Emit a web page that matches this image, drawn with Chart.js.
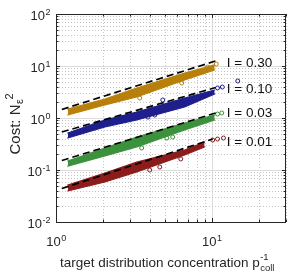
<!DOCTYPE html>
<html>
<head>
<meta charset="utf-8">
<script src="https://cdn.jsdelivr.net/npm/chart.js@4.4.0/dist/chart.umd.min.js"></script>
<style>
  html, body { margin: 0; padding: 0; background: #fff; }
  #contenedor { width: 299px; height: 275px; }
</style>
</head>
<body>
<div id="contenedor"><canvas id="grafico"></canvas></div>
<script>
// ticks con etiqueta (potencias de 10)
const xTicks = [1, 10];
const yTicks = [0.01, 0.1, 1, 10, 100];

// etiquetas de cada serie
const etiquetas = ["I = 0.30", "I = 0.10", "I = 0.03", "I = 0.01"];
const etiquetaX = 12.5;
const etiquetaY = [11.4, 3.61, 1.25, 0.345];

// banda de puntos: borde superior e inferior
const bandaX = [1.19, 2.06, 3.3, 6.7, 10.45];
const oroArriba = [1.49, 2.32, 3.78, 7.33, 10.5];
const oroAbajo = [1.14, 1.78, 2.53, 5.38, 8.38];
const azulArriba = [0.515, 0.915, 1.30, 2.42, 3.45];
const azulAbajo = [0.412, 0.671, 0.915, 1.63, 2.89];
const verdeArriba = [0.149, 0.265, 0.431, 0.80, 1.14];
const verdeAbajo = [0.119, 0.186, 0.277, 0.588, 0.915];
const rojoX = [1.19, 2.06, 3.3, 6.7, 9.0];
const rojoArriba = [0.0515, 0.0875, 0.142, 0.242, 0.345];
const rojoAbajo = [0.0395, 0.0587, 0.0917, 0.194, 0.277];

// puntos sueltos
const oroSueltosX = [3.45, 6.42, 9.43, 10.7];
const oroSueltosY = [2.42, 4.71, 9.55, 10.9];
const azulSueltosX = [3.89, 4.31, 4.85, 10.9, 11.7, 14.7];
const azulSueltosY = [1.04, 1.14, 2.22, 3.78, 3.94, 5.15];
const verdeSueltosX = [3.55, 5.15, 5.62, 10.9, 11.6];
const verdeSueltosY = [0.265, 0.412, 0.431, 1.19, 1.25];
const rojoSueltosX = [4.0, 4.64, 6.33, 10.15, 10.9, 11.9];
const rojoSueltosY = [0.1, 0.114, 0.163, 0.377, 0.394, 0.412];

// rectas de referencia (discontinuas)
const rectaX = [1.09, 10.6];
const oroRecta = [1.46, 12.5];
const azulRecta = [0.538, 3.85];
const verdeRecta = [0.152, 1.25];
const rojoRectaX = [1.09, 10.15];
const rojoRecta = [0.044, 0.394];

const colores = ["#b8800a", "#1e1e8c", "#3c913c", "#8c1c1c"];
const fuente = "Liberation Sans, Arial, Helvetica, sans-serif";
const tinta = "#262626";

function puntos(xs, ys) {
  return xs.map((x, i) => ({ x: x, y: ys[i] }));
}

const series = [
  [bandaX, oroArriba, oroAbajo, oroSueltosX, oroSueltosY, rectaX, oroRecta],
  [bandaX, azulArriba, azulAbajo, azulSueltosX, azulSueltosY, rectaX, azulRecta],
  [bandaX, verdeArriba, verdeAbajo, verdeSueltosX, verdeSueltosY, rectaX, verdeRecta],
  [rojoX, rojoArriba, rojoAbajo, rojoSueltosX, rojoSueltosY, rojoRectaX, rojoRecta],
];

const datasets = [];
series.forEach((s, i) => {
  const color = colores[i];
  datasets.push({
    type: "line", data: puntos(s[0], s[2]), borderColor: color, borderWidth: 1.2,
    borderCapStyle: "round", pointRadius: 0, fill: false, order: 3,
  });
  datasets.push({
    type: "line", data: puntos(s[0], s[1]), borderColor: color, borderWidth: 1.2,
    borderCapStyle: "round", backgroundColor: color, pointRadius: 0, fill: "-1", order: 3,
  });
  datasets.push({
    type: "scatter", data: puntos(s[3], s[4]), borderColor: color, borderWidth: 1,
    backgroundColor: "rgba(0,0,0,0)", pointRadius: 2, order: 2,
  });
  datasets.push({
    type: "line", data: puntos(s[5], s[6]), borderColor: "#000", borderWidth: 1.7,
    borderDash: [7, 4], pointRadius: 0, fill: false, order: 1,
  });
});

function valoresLog(min, max) {
  const v = [];
  for (let e = Math.floor(Math.log10(min)); e <= Math.ceil(Math.log10(max)); e++) {
    for (let m = 1; m < 10; m++) {
      const val = m * Math.pow(10, e);
      if (val >= min * 0.999 && val <= max * 1.001) v.push({ val: val, mayor: m === 1 });
    }
  }
  return v;
}

function potencia(ctx, exp, x, y, alinear) {
  ctx.font = "13px " + fuente;
  const wb = ctx.measureText("10").width;
  ctx.font = "9px " + fuente;
  const we = ctx.measureText(exp).width;
  let x0 = x;
  if (alinear === "center") x0 = x - (wb + we) / 2;
  if (alinear === "right") x0 = x - (wb + we);
  ctx.textAlign = "left";
  ctx.textBaseline = "alphabetic";
  ctx.font = "13px " + fuente;
  ctx.fillText("10", x0, y);
  ctx.font = "9px " + fuente;
  ctx.fillText(exp, x0 + wb + 0.5, y - 5.5);
}

const decoracion = {
  id: "decoracion",
  beforeDraw(chart) {
    const ctx = chart.ctx;
    ctx.save();
    ctx.fillStyle = "#fff";
    ctx.fillRect(0, 0, chart.width, chart.height);
    ctx.restore();
  },
  beforeDatasetsDraw(chart) {
    const ctx = chart.ctx;
    const a = chart.chartArea;
    const xs = chart.scales.x, ys = chart.scales.y;
    ctx.save();
    ctx.lineWidth = 1;
    valoresLog(xs.min, xs.max).forEach((t) => {
      const p = Math.round(xs.getPixelForValue(t.val)) + 0.5;
      ctx.strokeStyle = t.mayor ? "#dcdcdc" : "#c4c4c4";
      ctx.setLineDash(t.mayor ? [] : [1, 2]);
      ctx.beginPath(); ctx.moveTo(p, a.top); ctx.lineTo(p, a.bottom); ctx.stroke();
    });
    valoresLog(ys.min, ys.max).forEach((t) => {
      const p = Math.round(ys.getPixelForValue(t.val)) + 0.5;
      ctx.strokeStyle = t.mayor ? "#dcdcdc" : "#c4c4c4";
      ctx.setLineDash(t.mayor ? [] : [1, 2]);
      ctx.beginPath(); ctx.moveTo(a.left, p); ctx.lineTo(a.right, p); ctx.stroke();
    });
    ctx.restore();
  },
  afterDatasetsDraw(chart) {
    const ctx = chart.ctx;
    const a = chart.chartArea;
    const xs = chart.scales.x, ys = chart.scales.y;
    ctx.save();
    ctx.strokeStyle = tinta;
    ctx.lineWidth = 1;
    ctx.setLineDash([]);
    // marcas
    valoresLog(xs.min, xs.max).forEach((t) => {
      const p = Math.round(xs.getPixelForValue(t.val)) + 0.5;
      const l = t.mayor ? 4 : 2.5;
      ctx.beginPath();
      ctx.moveTo(p, a.bottom); ctx.lineTo(p, a.bottom - l);
      ctx.moveTo(p, a.top); ctx.lineTo(p, a.top + l);
      ctx.stroke();
    });
    valoresLog(ys.min, ys.max).forEach((t) => {
      const p = Math.round(ys.getPixelForValue(t.val)) + 0.5;
      const l = t.mayor ? 4 : 2.5;
      ctx.beginPath();
      ctx.moveTo(a.left, p); ctx.lineTo(a.left + l, p);
      ctx.moveTo(a.right, p); ctx.lineTo(a.right - l, p);
      ctx.stroke();
    });
    ctx.strokeRect(a.left + 0.5, a.top + 0.5, a.right - a.left - 1, a.bottom - a.top);

    // etiquetas de los ejes
    ctx.fillStyle = tinta;
    xTicks.forEach((v) => {
      potencia(ctx, String(Math.round(Math.log10(v))), xs.getPixelForValue(v), a.bottom + 24, "center");
    });
    yTicks.forEach((v) => {
      const e = Math.round(Math.log10(v));
      potencia(ctx, e < 0 ? "-" + (-e) : String(e), a.left - 6, ys.getPixelForValue(v) + 6, "right");
    });

    // titulo eje x
    ctx.textAlign = "left";
    ctx.textBaseline = "alphabetic";
    const tx = "target distribution concentration p";
    ctx.font = "13.5px " + fuente;
    const wx = ctx.measureText(tx).width;
    ctx.font = "9.5px " + fuente;
    const wsub = ctx.measureText("coll").width;
    let x0 = 167 - (wx + wsub) / 2;
    ctx.font = "13.5px " + fuente;
    ctx.fillText(tx, x0, 267);
    ctx.font = "9.5px " + fuente;
    ctx.fillText("coll", x0 + wx + 0.5, 271);
    ctx.fillText("-1", x0 + wx + 0.5, 260);

    // titulo eje y
    ctx.save();
    ctx.translate(20, 124);
    ctx.rotate(-Math.PI / 2);
    const ty = "Cost: N";
    ctx.font = "15px " + fuente;
    const wy = ctx.measureText(ty).width;
    ctx.font = "11px " + fuente;
    const weps = ctx.measureText("\u03b5").width;
    const w2 = ctx.measureText("2").width;
    const y0 = -(wy + weps + w2) / 2;
    ctx.font = "15px " + fuente;
    ctx.fillText(ty, y0, 0);
    ctx.font = "11px " + fuente;
    ctx.fillText("\u03b5", y0 + wy + 0.5, 3);
    ctx.fillText("2", y0 + wy + weps, -7);
    ctx.restore();

    // nombre de cada serie
    ctx.font = "13.5px " + fuente;
    ctx.fillStyle = "#111";
    ctx.textBaseline = "middle";
    etiquetas.forEach((t, i) => {
      ctx.fillText(t, xs.getPixelForValue(etiquetaX), ys.getPixelForValue(etiquetaY[i]));
    });
    ctx.restore();
  },
};

new Chart(document.getElementById("grafico"), {
  type: "scatter",
  data: { datasets: datasets },
  options: {
    responsive: true,
    maintainAspectRatio: false,
    animation: false,
    layout: { padding: { left: 56, top: 14, right: 13, bottom: 53 } },
    scales: {
      x: { type: "logarithmic", min: 1, max: 30, display: false },
      y: { type: "logarithmic", min: 0.01, max: 100, display: false },
    },
    plugins: { legend: { display: false }, tooltip: { enabled: false } },
  },
  plugins: [decoracion],
});
</script>
</body>
</html>
